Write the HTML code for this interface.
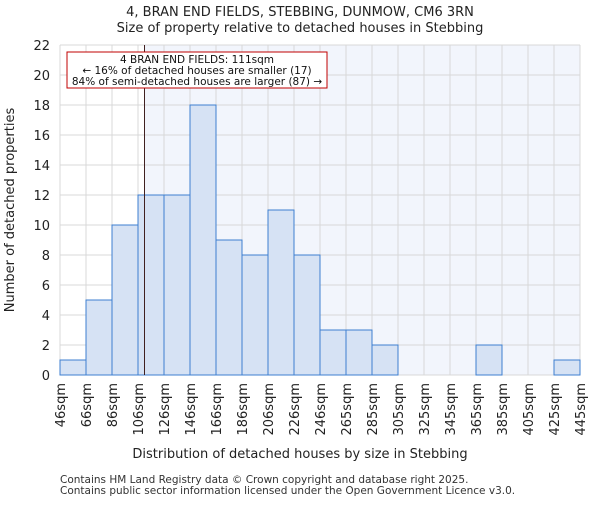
<!DOCTYPE html>
<html><head><meta charset="utf-8"><style>body{margin:0;background:#fff}svg text{font-family:"DejaVu Sans","Liberation Sans",sans-serif}</style></head>
<body>
<svg id="c" width="600" height="500" xmlns="http://www.w3.org/2000/svg"></svg>
<script>
const binLabels=["46sqm","66sqm","86sqm","106sqm","126sqm","146sqm","166sqm","186sqm","206sqm","226sqm","246sqm","265sqm","285sqm","305sqm","325sqm","345sqm","365sqm","385sqm","405sqm","425sqm","445sqm"];
const binEdges=[46,66,86,106,126,146,166,186,206,226,246,266,286,306,326,346,366,386,406,426,446];
const counts=[1,5,10,12,12,18,9,8,11,8,3,3,2,0,0,0,2,0,0,1];
const yTicks=[0,2,4,6,8,10,12,14,16,18,20,22];
const marker=111;
const NS="http://www.w3.org/2000/svg";
const svg=document.getElementById('c');
const L=60,R=580,T=45,B=375;
const x=v=>L+(v-binEdges[0])/(binEdges[binEdges.length-1]-binEdges[0])*(R-L);
const y=v=>B-v/22*(B-T);
function el(t,a,txt){const e=document.createElementNS(NS,t);for(const k in a)e.setAttribute(k,a[k]);if(txt!==undefined)e.textContent=txt;svg.appendChild(e);return e;}
let e;
e=el('rect',{x:L,y:T,width:R-L,height:B-T,fill:'#fff'});

e=el('rect',{x:x(marker),y:T,width:R-x(marker),height:B-T,fill:'#f2f5fc'});

binEdges.forEach(v=>{e=el('line',{x1:x(v),x2:x(v),y1:T,y2:B,stroke:'#d8d8d8'});});
yTicks.forEach(v=>{e=el('line',{x1:L,x2:R,y1:y(v),y2:y(v),stroke:'#d8d8d8'});
e=el('text',{x:L-10,y:y(v)+5,'text-anchor':'end','font-size':13,fill:'#222'},v);});
counts.forEach((c,i)=>{if(c<=0)return;e=el('rect',{x:x(binEdges[i]),y:y(c),width:x(binEdges[i+1])-x(binEdges[i]),height:B-y(c),fill:'#d6e2f4',stroke:'#3e7fd0','stroke-width':1});});
binLabels.forEach((s,i)=>{const xx=x(binEdges[i]);e=el('text',{x:xx+5,y:B+8,'text-anchor':'end','font-size':13,fill:'#222',transform:`rotate(-90 ${xx+5} ${B+8})`},s);});
e=el('line',{x1:x(marker),x2:x(marker),y1:T,y2:B,stroke:'#402020','stroke-width':1});

e=el('rect',{x:67,y:52,width:260,height:36,fill:'#fff',stroke:'#c00000','stroke-width':1});

["4 BRAN END FIELDS: 111sqm","← 16% of detached houses are smaller (17)","84% of semi-detached houses are larger (87) →"].forEach((t,i)=>{e=el('text',{x:197,y:63+i*11,'text-anchor':'middle','font-size':10.5,fill:'#111'},t);});
e=el('text',{x:300,y:16,'text-anchor':'middle','font-size':13,fill:'#222'},"4, BRAN END FIELDS, STEBBING, DUNMOW, CM6 3RN");
e=el('text',{x:300,y:32,'text-anchor':'middle','font-size':13,fill:'#222'},"Size of property relative to detached houses in Stebbing");
e=el('text',{x:300,y:458,'text-anchor':'middle','font-size':13,fill:'#222'},"Distribution of detached houses by size in Stebbing");
e=el('text',{x:14,y:210,'text-anchor':'middle','font-size':13,fill:'#222',transform:'rotate(-90 14 210)'},"Number of detached properties");
e=el('text',{x:60,y:483,'font-size':10.5,fill:'#333'},"Contains HM Land Registry data © Crown copyright and database right 2025.");
e=el('text',{x:60,y:494,'font-size':10.5,fill:'#333'},"Contains public sector information licensed under the Open Government Licence v3.0.");
</script>
</body></html>
